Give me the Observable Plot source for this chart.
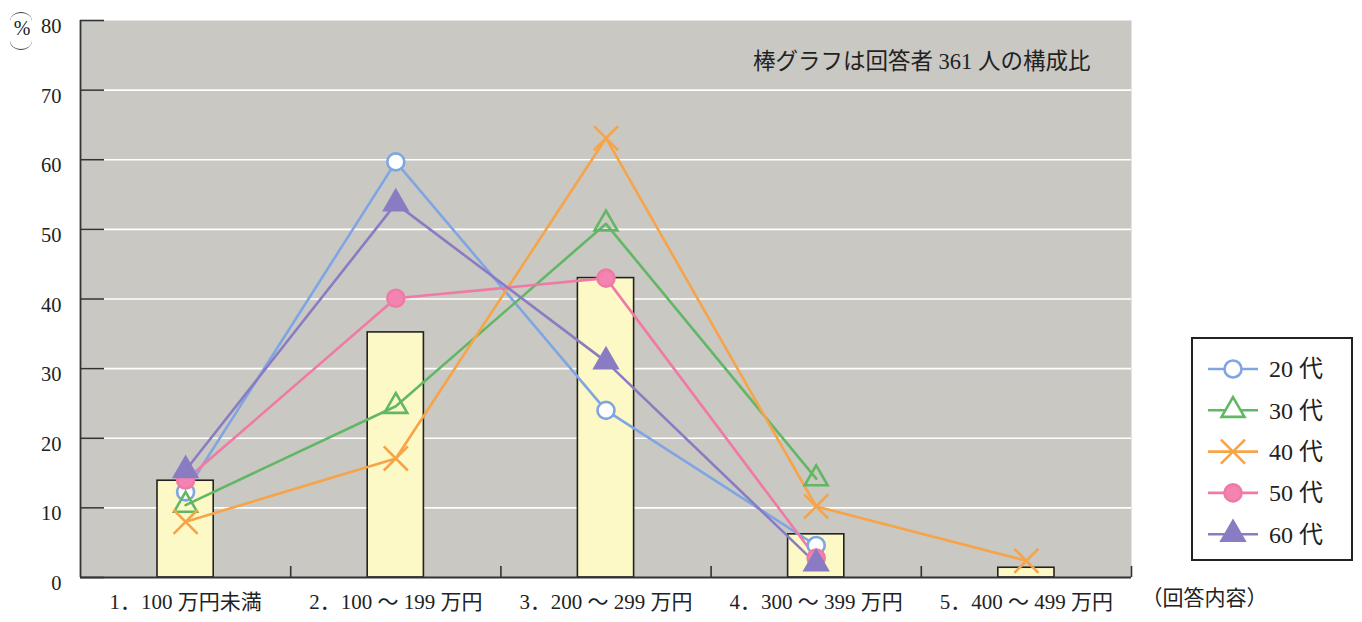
<!DOCTYPE html>
<html><head><meta charset="utf-8">
<script src="https://cdn.jsdelivr.net/npm/d3@7"></script>
<script src="https://cdn.jsdelivr.net/npm/@observablehq/plot@0.6"></script>
<style>
body{margin:0;background:#fff;font-family:"Liberation Serif","DejaVu Serif","Noto Sans CJK JP",serif;}
#wrap{position:relative;width:1362px;height:622px;}
#pct{position:absolute;left:8px;top:10px;width:28px;height:36px;font-size:20px;color:#222;text-align:center;line-height:36px;}
#pct .a{position:absolute;left:2px;width:22px;height:8px;border:1.5px solid #333;}
#pct .t{top:2px;border-bottom:none;border-left:none;border-right:none;border-radius:50% 50% 0 0/100% 100% 0 0;}
#pct .b{bottom:-4px;border-top:none;border-left:none;border-right:none;border-radius:0 0 50% 50%/0 0 100% 100%;}
#legend{position:absolute;left:1191px;top:337px;width:158px;height:220px;border:2px solid #222;background:#fff;}
</style></head>
<body><div id="wrap"><div id="pct"><span class="a t"></span>%<span class="a b"></span></div><div id="legend"></div></div>
<script>
const categories = ["1．100 万円未満","2．100 ～ 199 万円","3．200 ～ 299 万円","4．300 ～ 399 万円","5．400 ～ 499 万円"];
const shares = [13.9, 35.2, 43.0, 6.2, 1.4];
const seriesNames = ["20 代","30 代","40 代","50 代","60 代"];
const s20 = [12.3, 59.7, 24.0, 4.6, null];
const s30 = [10.4, 24.6, 50.8, 14.2, null];
const s40 = [8.0, 17.1, 63.1, 10.2, 2.4];
const s50 = [14.0, 40.1, 43.0, 2.8, null];
const s60 = [15.4, 53.7, 31.0, 2.0, null];
const yTicks = [0,10,20,30,40,50,60,70,80];
const note = "棒グラフは回答者 361 人の構成比";
const xTitle = "（回答内容）";

const colors = ["#7fa6e2","#62b765","#f7a448","#f07aa6","#8a7cc2"];
const symbols = ["circle","triangle","times","circle","triangle"];
const fills = ["#fff","none","none","#f383b0","#8a7cc2"];
const allSeries = [s20,s30,s40,s50,s60];

const idx = categories.map((_, i) => i + 1);
const xDomain = [0.5, categories.length + 0.5];
const bars = idx.map((i, k) => ({i, share: shares[k]}));
const pts = [];
allSeries.forEach((s, si) => s.forEach((v, k) => { if (v != null) pts.push({series: seriesNames[si], i: k + 1, v}); }));
const bounds = idx.map(i => i + 0.5);

const W = 1362, H = 622, mL = 80, mR = 231, mT = 20, mB = 45;
const pw = W - mL - mR, ph = H - mT - mB;
const serif = `"Liberation Serif","DejaVu Serif","Noto Sans CJK JP",serif`;

const marks = [
  Plot.frame({fill: "#c9c8c3", stroke: null}),
  Plot.gridY(yTicks.filter(t => t > 0 && t < 80), {stroke: "#fff", strokeOpacity: 1, strokeWidth: 1.6}),
  Plot.rectY(bars, {x1: d => d.i - 0.5, x2: d => d.i + 0.5, y: "share", insetLeft: 77, insetRight: 77, fill: "#fdf9c6", stroke: "#222", strokeWidth: 1.6}),
  Plot.ruleY(yTicks, {stroke: "#333", strokeWidth: 1.6, insetRight: pw - 24}),
  Plot.ruleX(bounds, {stroke: "#333", strokeWidth: 1.6, insetTop: ph - 11}),
  Plot.ruleX([xDomain[0]], {stroke: "#333", strokeWidth: 1.8}),
  Plot.ruleY([0], {stroke: "#333", strokeWidth: 1.8}),
  Plot.axisY(yTicks, {tickSize: 0, tickPadding: 19, fontSize: 20.5, dy: 6, fill: "#222", fontFamily: serif, label: null}),
  Plot.axisX(idx, {tickSize: 0, tickPadding: 17, fontSize: 21, fill: "#222", fontFamily: serif, label: null, tickFormat: i => categories[i - 1]}),
  Plot.text([xTitle], {frameAnchor: "bottom-right", textAnchor: "start", dx: 10, dy: 27, fontSize: 21, fill: "#222", fontFamily: serif}),
  Plot.text([note], {frameAnchor: "top-right", textAnchor: "end", dx: -41, dy: 33, fontSize: 22.5, fill: "#222", fontFamily: serif})
];
seriesNames.forEach((name, si) => {
  const d = pts.filter(p => p.series === name);
  marks.push(Plot.line(d, {x: "i", y: "v", stroke: colors[si], strokeWidth: 2.6}));
});
seriesNames.forEach((name, si) => {
  const d = pts.filter(p => p.series === name);
  marks.push(Plot.dot(d, {x: "i", y: "v", symbol: symbols[si], r: si === 2 ? 11 : 8.5, stroke: colors[si], strokeWidth: 2.6, fill: fills[si]}));
});

const chart = Plot.plot({
  width: W, height: H, marginLeft: mL, marginRight: mR, marginTop: mT, marginBottom: mB,
  style: {background: "transparent", fontFamily: serif},
  x: {type: "linear", domain: xDomain, axis: null, label: null},
  y: {domain: [0, 80], axis: null, label: null},
  marks
});
chart.style.position = "absolute"; chart.style.left = "0"; chart.style.top = "0";
document.getElementById("wrap").prepend(chart);

// legend
const lg = d3.select("#legend").append("svg").attr("width", 158).attr("height", 220);
seriesNames.forEach((name, si) => {
  const y = 30 + si * 41.3;
  const g = lg.append("g").attr("transform", `translate(0,${y})`);
  g.append("line").attr("x1", 15).attr("x2", 65).attr("stroke", colors[si]).attr("stroke-width", 2.6);
  const sym = {circle: d3.symbolCircle, triangle: d3.symbolTriangle, times: d3.symbolTimes}[symbols[si]];
  const r = si === 2 ? 11 : 8.5;
  g.append("path").attr("transform", "translate(40,0)").attr("d", d3.symbol(sym, Math.PI * r * r)())
    .attr("stroke", colors[si]).attr("stroke-width", 2.6).attr("fill", fills[si] === "none" ? (symbols[si]==="triangle" ? "#fff" : "none") : fills[si]);
  g.append("text").attr("x", 76).attr("dy", "0.35em").attr("font-size", 24).attr("fill", "#222")
    .attr("font-family", serif).text(name);
});
</script></body></html>
